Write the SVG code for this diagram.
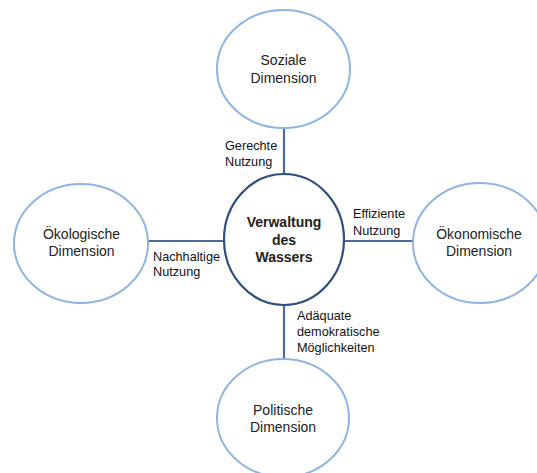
<svg xmlns="http://www.w3.org/2000/svg" width="537" height="473" viewBox="0 0 537 473">
<style>
.dim{fill:#fff;stroke:#8eb4e3;stroke-width:2}
.core{fill:#fff;stroke:#2e4f7f;stroke-width:2.2}
.con{stroke:#4a6a9a;stroke-width:2.2;fill:none}
.t{font-family:"Liberation Sans",Arial,sans-serif;font-size:14px;fill:#222;text-anchor:middle}
.b{font-family:"Liberation Sans",Arial,sans-serif;font-size:14px;font-weight:bold;fill:#222;text-anchor:middle}
.l{font-family:"Liberation Sans",Arial,sans-serif;font-size:12.7px;fill:#111}
</style>
<rect width="537" height="473" fill="#fff"/>
<g id="connectors">
<line class="con" x1="284" y1="128" x2="284" y2="174"/>
<line class="con" x1="284" y1="305" x2="284" y2="359"/>
<line class="con" x1="148" y1="241" x2="224" y2="241"/>
<line class="con" x1="344" y1="241" x2="413" y2="241"/>
<text class="l" x="225" y="150">Gerechte</text>
<text class="l" x="225" y="166">Nutzung</text>
<text class="l" x="353" y="218">Effiziente</text>
<text class="l" x="353" y="235">Nutzung</text>
<text class="l" x="153" y="261">Nachhaltige</text>
<text class="l" x="153" y="276">Nutzung</text>
<text class="l" x="297" y="320">Adäquate</text>
<text class="l" x="297" y="336">demokratische</text>
<text class="l" x="297" y="352">Möglichkeiten</text>
</g>
<g id="soziale">
<ellipse class="dim" cx="283.5" cy="69" rx="66.5" ry="59"/>
<text class="t" x="283.5" y="65">Soziale</text>
<text class="t" x="283.5" y="83">Dimension</text>
</g>
<g id="oekologische">
<ellipse class="dim" cx="81" cy="243.5" rx="67" ry="59.5"/>
<text class="t" x="81.5" y="239">Ökologische</text>
<text class="t" x="81.5" y="256">Dimension</text>
</g>
<g id="oekonomische">
<ellipse class="dim" cx="480" cy="243" rx="67" ry="60"/>
<text class="t" x="479" y="239">Ökonomische</text>
<text class="t" x="479" y="256">Dimension</text>
</g>
<g id="politische">
<ellipse class="dim" cx="283" cy="418" rx="66" ry="59"/>
<text class="t" x="283" y="415">Politische</text>
<text class="t" x="283" y="432">Dimension</text>
</g>
<g id="verwaltung">
<ellipse class="core" cx="284" cy="239.5" rx="60" ry="65.5"/>
<text class="b" x="284" y="227">Verwaltung</text>
<text class="b" x="284" y="245">des</text>
<text class="b" x="284" y="262">Wassers</text>
</g>
</svg>
